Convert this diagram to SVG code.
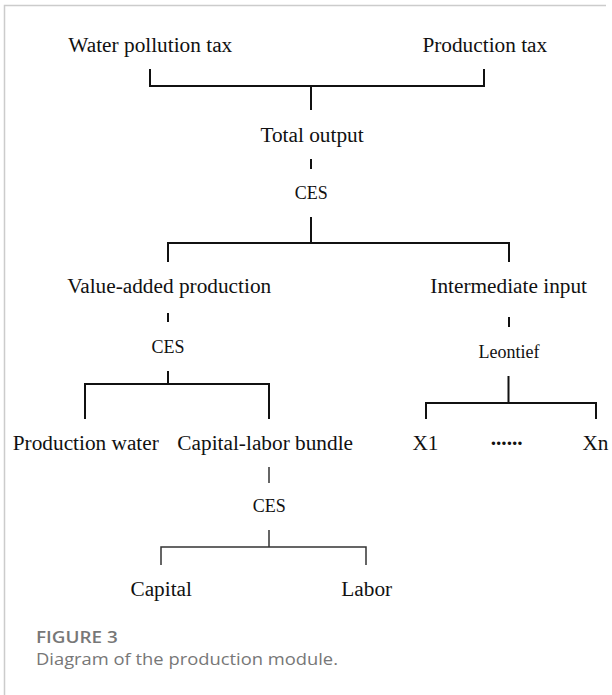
<svg xmlns="http://www.w3.org/2000/svg" width="612" height="695" viewBox="0 0 612 695">
<style>
.t{font-family:"Liberation Serif","Times New Roman",serif;font-size:21.3px;fill:#111;text-anchor:middle}
.s{font-family:"Liberation Serif","Times New Roman",serif;font-size:18px;fill:#111;text-anchor:middle}
.c{fill:none;stroke:#111;stroke-width:2}
.c2{fill:none;stroke:#333;stroke-width:1.5}
.cap1{font-family:"Open Sans","Noto Sans",sans-serif;font-size:16px;font-weight:600;fill:#777}
.cap2{font-family:"Open Sans","Noto Sans",sans-serif;font-size:16.5px;fill:#777}
</style>
<rect width="612" height="695" fill="#fff"/>
<path d="M4.5,695 V5.5 H606" fill="none" stroke="#ccc" stroke-width="1.5"/>
<g id="connectors">
<path class="c" d="M150,69 V86 H484 V69 M311,86 V110"/>
<path class="c" d="M311,159 V169"/>
<path class="c" d="M311,217 V243 M168,262 V243 H509 V262"/>
<path class="c" d="M168,313 V322"/>
<path class="c" d="M168,371 V384 M85,419 V384 H269 V419"/>
<path class="c" d="M509,317 V327"/>
<path class="c" d="M508.5,376 V403 M426,419 V403 H596 V419"/>
<path class="c2" d="M269,467 V483"/>
<path class="c2" d="M269,530 V547 M161,565 V547 H366 V565"/>
</g>
<g id="water-pollution-tax"><text class="t" x="150.3" y="52.3">Water pollution tax</text></g>
<g id="production-tax"><text class="t" x="484.8" y="52.3">Production tax</text></g>
<g id="total-output"><text class="t" x="312" y="142">Total output</text></g>
<g id="ces1"><text class="s" x="311.3" y="199.3">CES</text></g>
<g id="value-added"><text class="t" x="169.2" y="293.3">Value-added production</text></g>
<g id="intermediate-input"><text class="t" x="508.7" y="293.3">Intermediate input</text></g>
<g id="ces2"><text class="s" x="168" y="353">CES</text></g>
<g id="leontief"><text class="s" x="509" y="357.5">Leontief</text></g>
<g id="production-water"><text class="t" x="85.8" y="450">Production water</text></g>
<g id="capital-labor"><text class="t" x="265.2" y="450">Capital-labor bundle</text></g>
<g id="x1"><text class="t" x="425.5" y="450">X1</text></g>
<g id="dots"><text class="t" x="506.7" y="445" style="font-weight:bold">......</text></g>
<g id="xn"><text class="t" x="595.5" y="450">Xn</text></g>
<g id="ces3"><text class="s" x="269.2" y="512.3">CES</text></g>
<g id="capital"><text class="t" x="161.2" y="596">Capital</text></g>
<g id="labor"><text class="t" x="366.7" y="596">Labor</text></g>
<text class="cap1" x="36" y="642.7" textLength="81.7" lengthAdjust="spacingAndGlyphs">FIGURE 3</text>
<text class="cap2" x="36" y="665" textLength="302" lengthAdjust="spacingAndGlyphs">Diagram of the production module.</text>
</svg>
